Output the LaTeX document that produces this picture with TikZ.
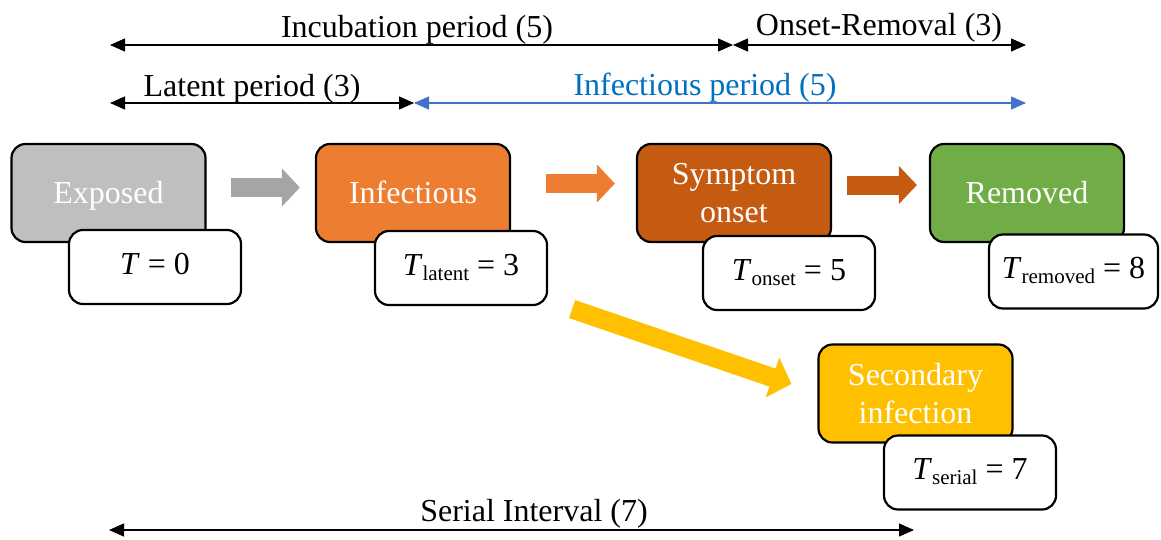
\documentclass[tikz,border=0pt]{standalone}
\usepackage{fontspec}
\setmainfont{Liberation Serif}
\usetikzlibrary{arrows.meta,calc}
\definecolor{cgray}{HTML}{BFBFBF}
\definecolor{cgrayarr}{HTML}{A5A5A5}
\definecolor{corange}{HTML}{ED7D31}
\definecolor{cdark}{HTML}{C55A11}
\definecolor{cgreen}{HTML}{70AD47}
\definecolor{cyellow}{HTML}{FFC000}
\definecolor{cblue}{HTML}{4472C4}
\definecolor{cbluetxt}{HTML}{0070C0}
\newcommand{\tsub}[1]{\textit{T}\raisebox{-5pt}{\fontsize{21}{21}\selectfont #1}}
\begin{document}
\begin{tikzpicture}[x=1pt,y=-1pt,
  stage/.style={draw=black, line width=2.2pt, rounded corners=14pt, minimum width=194pt, minimum height=98pt, text=white, font=\fontsize{32}{38}\selectfont, align=center, inner sep=0pt},
  oneline/.style={text height=24pt, text depth=4pt},
  tbox/.style={draw=black, fill=white, line width=2.2pt, rounded corners=14pt, minimum width=172pt, minimum height=74pt, font=\fontsize{32}{38}\selectfont, text height=22pt, text depth=8pt, inner sep=0pt},
  blk/.style={line width=19pt, -{Triangle[length=18pt,width=37pt]}},
  dim/.style={line width=1.3pt, {Triangle[length=15pt,width=13pt]}-{Triangle[length=15pt,width=13pt]}},
  lbl/.style={font=\fontsize{32}{38}\selectfont, anchor=base, inner sep=0pt}]
\useasboundingbox (0,0) rectangle (1161,539);

% stages
\node[stage, fill=cgray, oneline] (exposed) at (108.5,193) {Exposed};
\node[stage, fill=corange, oneline] (infectious) at (413,193) {Infectious};
\node[stage, fill=cdark] (symptom) at (734,193) {Symptom\\onset};
\node[stage, fill=cgreen, oneline] (removed) at (1027,193) {Removed};
\node[stage, fill=cyellow] (secondary) at (915.5,393.5) {Secondary\\infection};

% time boxes
\node[tbox] (t0) at (155,267) {\textit{T} = 0};
\node[tbox] (tlatent) at (461,268) {\tsub{latent} = 3};
\node[tbox] (tonset) at (789,273) {\tsub{onset} = 5};
\node[tbox, minimum width=169pt] (tremoved) at (1073.5,271.5) {\tsub{removed} = 8};
\node[tbox] (tserial) at (970,472.5) {\tsub{serial} = 7};

% block arrows
\draw[blk, cgrayarr] ([shift={(24,-5.5)}]exposed.east) -- ([shift={(-15,-5.5)}]infectious.west);
\draw[blk, corange] ([shift={(35,-9.5)}]infectious.east) -- ([shift={(-21,-9.5)}]symptom.west);
\draw[blk, cdark] ([shift={(15,-8)}]symptom.east) -- ([shift={(-12,-8)}]removed.west);
\draw[line width=19pt, -{Triangle[length=20pt,width=41pt]}, cyellow] ([shift={(24,3)}]tlatent.south east) -- ([shift={(-26,-9.5)}]secondary.west);

% dimension lines
\coordinate (iA) at (110,45);
\coordinate (iB) at (733,45);
\coordinate (iC) at (1026,45);
\coordinate (lA) at (110,103);
\coordinate (lB) at (414,103);
\coordinate (lC) at (1026,103);
\coordinate (sA) at (109,530);
\coordinate (sB) at (914,530);
\draw[dim] (iA) -- (iB);
\draw[dim] (iB) -- (iC);
\draw[dim] (lA) -- (lB);
\draw[dim, cblue] (lB) -- (lC);
\draw[dim] (sA) -- (sB);

\node[lbl] (incl) at (417,37) {Incubation period (5)};
\node[lbl] (onrl) at (879,35.5) {Onset-Removal (3)};
\node[lbl] (latl) at (252,96) {Latent period (3)};
\node[lbl, text=cbluetxt] (infl) at (705,95) {Infectious period (5)};
\node[lbl] (serl) at (534,521) {Serial Interval (7)};
\end{tikzpicture}
\end{document}
